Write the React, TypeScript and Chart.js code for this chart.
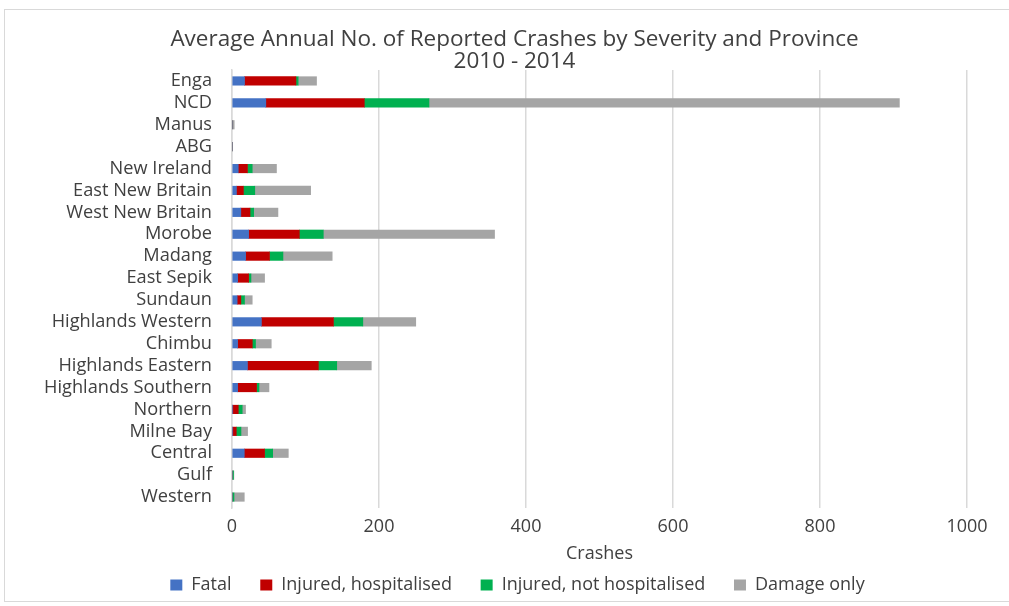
import React, { useEffect, useRef } from "react";
import { Chart, registerables } from "chart.js";

Chart.register(...registerables);

const categories = [
  "Enga", "NCD", "Manus", "ABG", "New Ireland", "East New Britain", "West New Britain",
  "Morobe", "Madang", "East Sepik", "Sundaun", "Highlands Western", "Chimbu",
  "Highlands Eastern", "Highlands Southern", "Northern", "Milne Bay", "Central", "Gulf", "Western",
];
const fatal = [17, 46, 0, 0, 8.5, 6, 12, 22.6, 18.5, 7.6, 7, 40, 7.6, 21, 7.6, 1, 1, 16.7, 0, 0];
const injuredHosp = [70, 134, 0, 0, 12.5, 9.5, 12.5, 69, 32.5, 15, 5, 98, 20, 96.5, 25.8, 7.5, 4.8, 27.6, 0, 0];
const injuredNotHosp = [3, 88, 0, 0, 6.5, 15.5, 5, 32.6, 18.3, 3.2, 5, 40, 4.4, 25, 3.3, 5.4, 6.4, 11, 2, 2.7];
const damageOnly = [25, 640, 3, 0, 33, 76, 33, 233, 67, 18.5, 10.5, 72, 21.4, 47, 13.6, 4.5, 9, 21.3, 0.5, 14];
const seriesNames = ["Fatal", "Injured, hospitalised", "Injured, not hospitalised", "Damage only"];
const xTicks = [0, 200, 400, 600, 800, 1000];
const titleLines = ["Average Annual No. of Reported Crashes by Severity and Province", "2010 - 2014"];

const colors = ["#4472C4", "#C00000", "#00B050", "#A5A5A5"];
const FONT = "'Open Sans', sans-serif";
const TEXT = "#404040";
const TITLE_SHIFT = 13;
const LEGEND_SHIFT = 16;

const shiftPlugin = {
  id: "centerShift",
  afterLayout(chart: any) {
    const t = chart.titleBlock;
    if (t) {
      t.left += TITLE_SHIFT;
      t.right += TITLE_SHIFT;
    }
    const l = chart.legend;
    if (l) {
      l.left += LEGEND_SHIFT;
      l.right += LEGEND_SHIFT;
    }
  },
};

export default function App() {
  const ref = useRef<HTMLCanvasElement | null>(null);
  useEffect(() => {
    document.body.style.margin = "0";
    const values = [fatal, injuredHosp, injuredNotHosp, damageOnly];
    const chart = new Chart(ref.current!, {
      type: "bar",
      data: {
        labels: categories,
        datasets: seriesNames.map((name, i) => ({
          label: name,
          data: values[i],
          backgroundColor: colors[i],
          borderWidth: 0,
          barThickness: 8.5,
        })),
      },
      plugins: [shiftPlugin],
      options: {
        indexAxis: "y",
        responsive: false,
        animation: false,
        layout: { padding: { top: 0, left: 36, right: 42, bottom: 2 } },
        plugins: {
          title: {
            display: true,
            text: titleLines,
            color: TEXT,
            font: { family: FONT, size: 22.5, weight: "normal", lineHeight: 1.0 },
            padding: { top: 28, bottom: -3 },
          },
          legend: {
            position: "bottom",
            labels: {
              color: TEXT,
              font: { family: FONT, size: 18 },
              boxWidth: 12,
              boxHeight: 11,
              padding: 10,
              generateLabels: (c: any) => {
                const items = Chart.defaults.plugins.legend.labels.generateLabels(c);
                return items.map((it: any, i: number) => ({
                  ...it,
                  text: i < items.length - 1 ? it.text + "    " : it.text,
                }));
              },
            },
          },
          tooltip: { enabled: false },
        },
        scales: {
          x: {
            stacked: true,
            min: 0,
            max: 1000,
            afterBuildTicks: (s: any) => {
              s.ticks = xTicks.map((v) => ({ value: v }));
            },
            afterFit: (s: any) => {
              s.height = 58;
            },
            grid: { color: "#d9d9d9", lineWidth: 1.5, drawTicks: false },
            border: { display: false },
            ticks: {
              color: TEXT,
              font: { family: FONT, size: 18 },
              padding: 8,
              callback: (v: any) => String(v),
            },
            title: {
              display: true,
              text: "Crashes",
              color: TEXT,
              font: { family: FONT, size: 18 },
              padding: { top: 0, bottom: 1 },
            },
          },
          y: {
            stacked: true,
            afterFit: (s: any) => {
              s.width = 196;
            },
            grid: { display: false, drawTicks: false },
            border: { display: true, color: "#d9d9d9", width: 1.5 },
            ticks: { color: TEXT, font: { family: FONT, size: 18.2 }, padding: 20, autoSkip: false },
          },
        },
      },
    });
    return () => chart.destroy();
  }, []);
  return (
    <div style={{ position: "relative", width: 1009, height: 606 }}>
      <canvas ref={ref} width={1009} height={606} style={{ display: "block" }} />
      <div
        style={{
          position: "absolute",
          left: 4,
          top: 9,
          width: 1010,
          height: 591,
          border: "1px solid #d9d9d9",
          pointerEvents: "none",
        }}
      />
    </div>
  );
}
